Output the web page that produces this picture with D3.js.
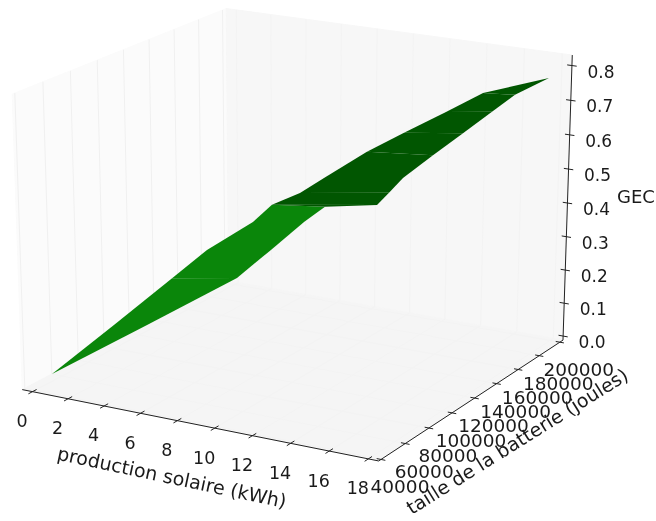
<!DOCTYPE html>
<html><head><meta charset="utf-8"><style>
html,body{margin:0;background:#fff}
svg{display:block;filter:blur(0.4px)}
text{font-family:"DejaVu Sans",sans-serif;fill:#1a1a1a}
</style></head><body><svg id="c" width="656" height="521"></svg>
<script src="https://cdnjs.cloudflare.com/ajax/libs/d3/7.8.5/d3.min.js"></script>
<script>
// tick labels
const productionTicks=[0,2,4,6,8,10,12,14,16,18];
const batteryTicks=[40000,60000,80000,100000,120000,140000,160000,180000,200000];
const gecTicks=[0,0.1,0.2,0.3,0.4,0.5,0.6,0.7,0.8];
// the surface: a strip between its near edge and its far edge
const nearProduction=[-0.26,5.14,10.02,11.81,13.52,14.59,18,18,18,18,18,18,18,18];
const nearBattery=[56000,56000,56000,56000,56000,56000,43227,52731,63937,88540,113881,139103,159626,191082];
const nearGec=[-0.001,0.197,0.378,0.473,0.565,0.616,0.673,0.689,0.709,0.729,0.747,0.765,0.780,0.779];
const farProduction=[-0.16,2.07,4.16,5.41,7.05,7.73,7.73,8.73,9.59,11.12,12.45,13.95,15.28,17.66];
const farBattery=[54723,72584,89251,99283,112428,117862,117862,125858,132714,144998,155579,167602,178201,197291];
const farGec=[0.003,0.134,0.259,0.334,0.406,0.452,0.452,0.481,0.520,0.587,0.635,0.687,0.735,0.767];
const stripTone=[0,0,0,0,0,1,1,1,1,1,1,1,1];
const toneColors=["#0a860a","#015601"];

// camera
const view={elev:19.8557,azim:-60.4446,dist:8.5688,focal:3457.6451,cx:298.0986,cy:221.8118,squash:0.8609,zBox:0.8879};
const xDomain=[-0.5811,18.5263],yDomain=[38119.1378,203121.1076],zDomain=[-0.0124,0.83];
const sx=d3.scaleLinear().domain(xDomain).range([-.5,.5]);
const sy=d3.scaleLinear().domain(yDomain).range([-.5,.5]);
const sz=d3.scaleLinear().domain(zDomain).range([-view.zBox/2,view.zBox/2]);
const e=view.elev*Math.PI/180,a=view.azim*Math.PI/180;
const w=[Math.cos(e)*Math.cos(a),Math.cos(e)*Math.sin(a),Math.sin(e)];
const n=Math.hypot(w[0],w[1]);
const u=[-w[1]/n,w[0]/n,0];
const v=[w[1]*u[2]-w[2]*u[1],w[2]*u[0]-w[0]*u[2],w[0]*u[1]-w[1]*u[0]];
const dot=(A,B)=>A[0]*B[0]+A[1]*B[1]+A[2]*B[2];
function proj(x,y,z){
  const q=[sx(x),sy(y),sz(z)];
  const dp=view.dist-dot(w,q);
  return [view.cx+view.focal*dot(u,q)/dp, view.cy-view.squash*view.focal*dot(v,q)/dp];
}
const line=d3.line();
const svg=d3.select("#c");
const [xl,xh]=xDomain,[yl,yh]=yDomain,[zl,zh]=zDomain;

// panes
const panes=[
 {c:"#fbfbfb",p:[[xl,yl,zl],[xl,yh,zl],[xl,yh,zh],[xl,yl,zh]]},
 {c:"#f7f7f7",p:[[xl,yh,zl],[xh,yh,zl],[xh,yh,zh],[xl,yh,zh]]},
 {c:"#f5f5f5",p:[[xl,yl,zl],[xh,yl,zl],[xh,yh,zl],[xl,yh,zl]]}
];
svg.append("g").selectAll("path").data(panes).join("path")
  .attr("d",d=>line(d.p.map(q=>proj(...q)))+"Z").attr("fill",d=>d.c).attr("stroke",d=>d.c);

// grid
const grid=[];
batteryTicks.forEach(t=>{grid.push({c:"#f0f0f0",p:[[xl,t,zl],[xl,t,zh]]},{c:"#f3f3f3",p:[[xl,t,zl],[xh,t,zl]]});});
productionTicks.forEach(t=>{grid.push({c:"#f3f3f3",p:[[t,yh,zl],[t,yh,zh]]},{c:"#f3f3f3",p:[[t,yl,zl],[t,yh,zl]]});});
svg.append("g").selectAll("path").data(grid).join("path")
  .attr("d",d=>line(d.p.map(q=>proj(...q)))).attr("stroke",d=>d.c).attr("fill","none").attr("stroke-width",1);

// surface
const strips=stripTone.map((tone,i)=>({tone,p:[
  [nearProduction[i],nearBattery[i],nearGec[i]],
  [nearProduction[i+1],nearBattery[i+1],nearGec[i+1]],
  [farProduction[i+1],farBattery[i+1],farGec[i+1]],
  [farProduction[i],farBattery[i],farGec[i]]]}));
svg.append("g").selectAll("path").data(strips).join("path")
  .attr("d",d=>line(d.p.map(q=>proj(...q)))+"Z").attr("fill",d=>toneColors[d.tone]);

// axes
const axes=svg.append("g").attr("stroke","#222").attr("fill","none").attr("stroke-width",1);
[[[xl,yl,zl],[xh,yl,zl]],[[xh,yl,zl],[xh,yh,zl]],[[xh,yh,zl],[xh,yh,zh]]].forEach(s=>
  axes.append("path").attr("d",line(s.map(q=>proj(...q)))));
const tk=[];
productionTicks.forEach(t=>tk.push([[t,yl-3000,zl],[t,yl+3000,zl]]));
batteryTicks.forEach(t=>tk.push([[xh-.22,t,zl],[xh+.22,t,zl]]));
gecTicks.forEach(t=>tk.push([[xh-.25,yh,t],[xh+.25,yh,t]]));
axes.selectAll(".t").data(tk).join("path").attr("class","t").attr("d",d=>line(d.map(q=>proj(...q))));

// labels
function label(txt,pos,dx,dy,fs,rot){
  const px=pos[0]+dx,py=pos[1]+dy;
  svg.append("text").attr("x",px).attr("y",py).attr("text-anchor","middle").attr("dominant-baseline","central")
    .attr("font-size",fs).attr("transform",rot?`rotate(${rot} ${px} ${py})`:null).text(txt);
}
productionTicks.forEach(t=>label(String(t),proj(t,yl,zl),-10.5,29.5,17.5));
batteryTicks.forEach(t=>label(String(t),proj(xh,t,zl),19,27.5,18.5));
gecTicks.forEach(t=>label(t.toFixed(1),proj(xh,yh,t),29,6,17));
label("production solaire (kWh)",[172,477],0,0,19,12);
label("taille de la batterie (joules)",[517,441],0,0,19,-32);
label("GEC",[636,196],0,0,18,0);
</script></body></html>
